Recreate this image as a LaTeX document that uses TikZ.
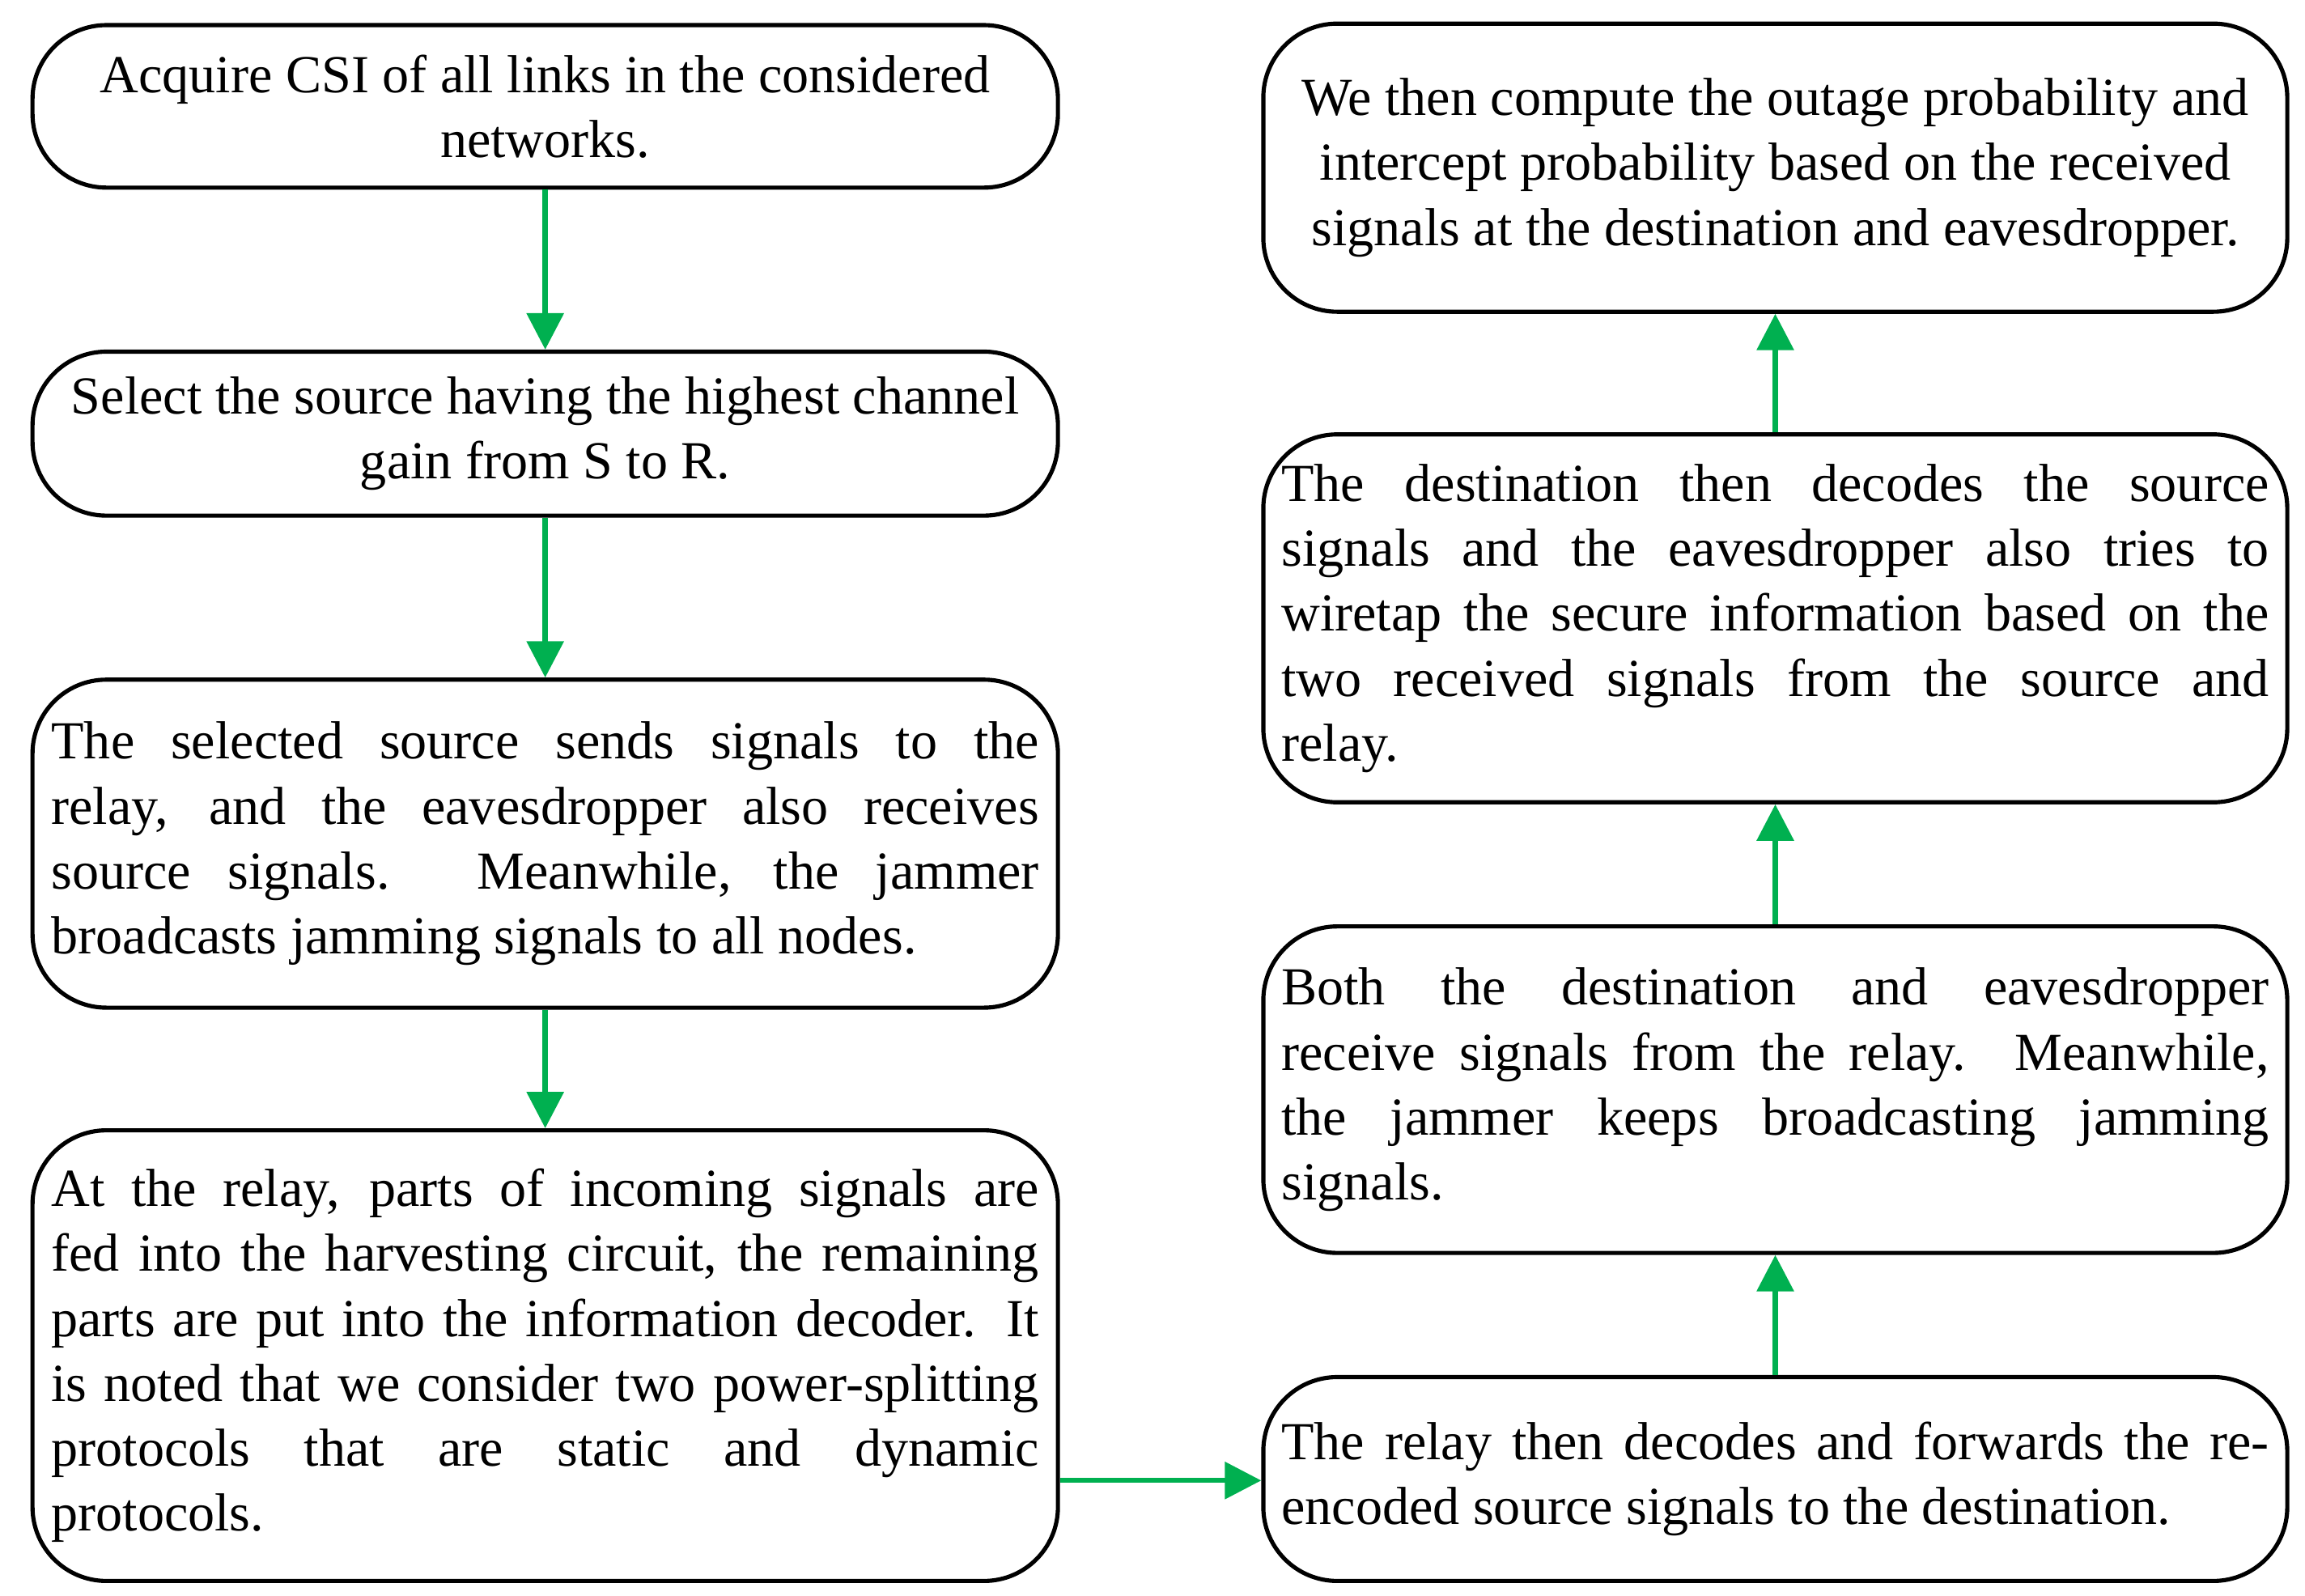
\documentclass[tikz,border=0pt]{standalone}
\usepackage{fontspec}
\setmainfont{Liberation Serif}
\usetikzlibrary{arrows.meta}
\definecolor{ag}{RGB}{0,176,80}
\newcommand{\jl}[1]{\makebox[6.68cm][s]{#1}\\}
\newcommand{\lastl}[1]{\makebox[6.68cm][l]{#1}}
\begin{document}
\begin{tikzpicture}[x=0.01cm,y=-0.01cm,
 box/.style={draw,line width=0.8pt,rounded corners=0.5cm,inner sep=0pt,font=\fontsize{10.3}{12.5}\selectfont},
 arr/.style={draw=ag,line width=1pt,-{Triangle[length=7pt,width=7pt]}}]
\useasboundingbox (0,0) rectangle (1560,1080);
\def\bx#1#2#3#4#5#6#7{\node[box,minimum width=#3*0.01cm-#2*0.01cm,minimum height=#5*0.01cm-#4*0.01cm,align=#6] (#1) at ({(#2+#3)/2},{(#4+#5)/2}) {#7};}
\bx{l1}{22}{716}{17}{127}{center}{Acquire CSI of all links in the considered\\networks.}
\bx{l2}{22}{716}{238}{349}{center}{Select the source having the highest channel\\gain from S to R.}
\bx{l3}{22}{716}{460}{682}{left}{\jl{The selected source sends signals to the}\jl{relay, and the eavesdropper also receives}\jl{source signals. Meanwhile, the jammer}\lastl{broadcasts jamming signals to all nodes.}}
\bx{l4}{22}{716}{765}{1070}{left}{\jl{At the relay, parts of incoming signals are}\jl{fed into the harvesting circuit, the remaining}\jl{parts are put into the information decoder. It}\jl{is noted that we consider two power-splitting}\jl{protocols that are static and dynamic}\lastl{protocols.}}
\bx{r1}{855}{1548}{16}{211}{center}{We then compute the outage probability and\\intercept probability based on the received\\signals at the destination and eavesdropper.}
\bx{r2}{855}{1548}{294}{543}{left}{\jl{The destination then decodes the source}\jl{signals and the eavesdropper also tries to}\jl{wiretap the secure information based on the}\jl{two received signals from the source and}\lastl{relay.}}
\bx{r3}{855}{1548}{627}{848}{left}{\jl{Both the destination and eavesdropper}\jl{receive signals from the relay. Meanwhile,}\jl{the jammer keeps broadcasting jamming}\lastl{signals.}}
\bx{r4}{855}{1548}{932}{1070}{left}{\jl{The relay then decodes and forwards the re-}\lastl{encoded source signals to the destination.}}
\draw[arr] (l1) -- (l2);
\draw[arr] (l2) -- (l3);
\draw[arr] (l3) -- (l4);
\draw[arr] (l4.east |- 0,1002) -- (r4.west |- 0,1002);
\draw[arr] (r4) -- (r3);
\draw[arr] (r3) -- (r2);
\draw[arr] (r2) -- (r1);
\end{tikzpicture}
\end{document}
